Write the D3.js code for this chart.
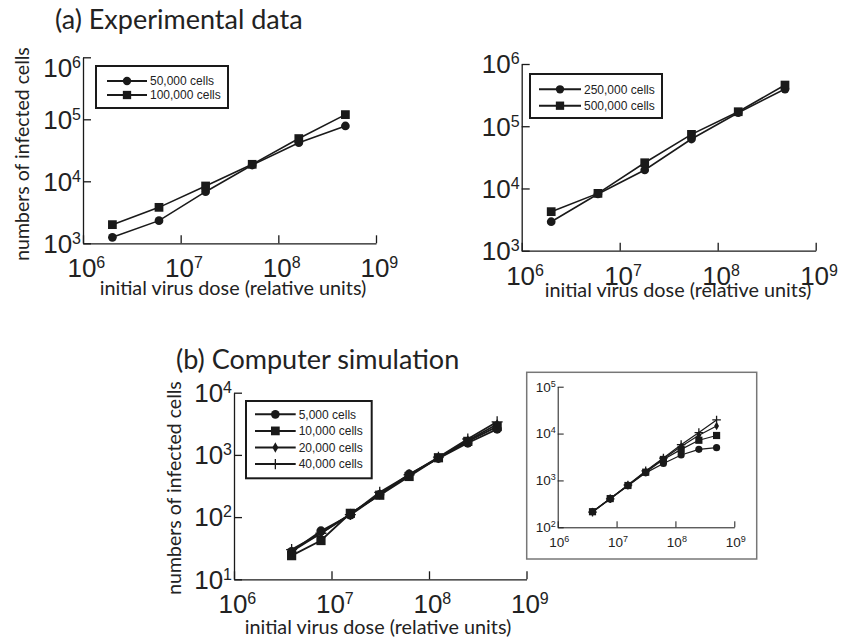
<!DOCTYPE html>
<html>
<head>
<meta charset="utf-8">
<script src="https://cdn.jsdelivr.net/npm/d3@7"></script>
<style>
  html, body { margin: 0; padding: 0; background: #fff; }
  svg { display: block; }
  .tick-label { font-family: "Liberation Sans", Arial, sans-serif; fill: #222; }
  .title { font-family: Lato, "Open Sans", sans-serif; fill: #222; }
  .legend-text { font-family: "Liberation Sans", Arial, sans-serif; font-size: 12px; fill: #222; }
</style>
</head>
<body>
<svg id="chart" width="841" height="639"></svg>
<script>
// ---- data -------------------------------------------------------------
// (a) experimental: virus dose steps of x3
const doseA = [2e6, 6e6, 1.8e7, 5.4e7, 1.62e8, 4.86e8];
const cells50k  = [1250, 2320, 6800, 18300, 42000, 78000];
const cells100k = [2000, 3800, 8400, 18800, 48900, 119000];
const cells250k = [2920, 8150, 19800, 62300, 165000, 396000];
const cells500k = [4240, 8340, 25900, 74000, 171000, 459000];

// (b) simulation: virus dose steps of x2
const doseB = [3.9e6, 7.8e6, 1.56e7, 3.125e7, 6.25e7, 1.25e8, 2.5e8, 5e8];
const sim5k  = [28, 60, 108, 230, 490, 880, 1550, 2600];
const sim10k = [24, 42, 115, 225, 450, 900, 1650, 2850];
const sim20k = [28, 55, 112, 235, 470, 900, 1700, 3100];
const sim40k = [30, 55, 110, 250, 480, 920, 1800, 3400];

// inset simulation
const inset5k  = [215, 400, 770, 1450, 2300, 3500, 4600, 5000];
const inset10k = [215, 410, 780, 1500, 2800, 4600, 7200, 9100];
const inset20k = [215, 410, 790, 1550, 2900, 5300, 9200, 14500];
const inset40k = [210, 405, 800, 1600, 3000, 5800, 10500, 19500];

// tick exponents
const xTickExp = [6, 7, 8, 9];
const yTickExpA = [3, 4, 5, 6];
const yTickExpB = [1, 2, 3, 4];
const yTickExpInset = [2, 3, 4, 5];

const legendA1 = ["50,000 cells", "100,000 cells"];
const legendA2 = ["250,000 cells", "500,000 cells"];
const legendB = ["5,000 cells", "10,000 cells", "20,000 cells", "40,000 cells"];

// ---- helpers ----------------------------------------------------------
const svg = d3.select("#chart");
const INK = "#1a1a1a";

function drawMarker(g, type, x, y, s) {
  // s = overall marker scale (1 = main panels)
  if (type === "circle") {
    g.append("circle").attr("cx", x).attr("cy", y).attr("r", 4.6 * s).attr("fill", INK);
  } else if (type === "square") {
    const h = 4.6 * s;
    g.append("rect").attr("x", x - h).attr("y", y - h).attr("width", 2 * h).attr("height", 2 * h).attr("fill", INK);
  } else if (type === "diamond") {
    g.append("path").attr("transform", `translate(${x},${y})`)
      .attr("d", d3.symbol().type(d3.symbolDiamond).size(34 * s * s)()).attr("fill", INK);
  } else if (type === "plus") {
    const h = 5.5 * s;
    g.append("path").attr("d", `M${x - h},${y}H${x + h}M${x},${y - h}V${y + h}`)
      .attr("stroke", INK).attr("stroke-width", 1.3).attr("fill", "none");
  }
}

function powerLabel(sel, exp, big, small, raise) {
  sel.text(null);
  sel.append("tspan").attr("font-size", big).text("10");
  sel.append("tspan").attr("font-size", small).attr("dy", -raise).text(exp);
}

function panel(opt) {
  const g = svg.append("g");
  const x = d3.scaleLog().domain([1e6, 1e9]).range([opt.x0, opt.x1]);
  const y = d3.scaleLog().domain([Math.pow(10, opt.yExp[0]), Math.pow(10, opt.yExp[opt.yExp.length - 1])])
    .range([opt.yBot, opt.yTop]);

  // axes: ticks point inward, labels drawn as powers of ten
  const xa = g.append("g").attr("transform", `translate(0,${opt.yBot})`)
    .call(d3.axisBottom(x).tickValues(xTickExp.map(e => Math.pow(10, e)))
      .tickSize(-opt.tick).tickSizeOuter(0).tickFormat(""));
  const ya = g.append("g").attr("transform", `translate(${opt.x0},0)`)
    .call(d3.axisLeft(y).tickValues(opt.yExp.map(e => Math.pow(10, e)))
      .tickSize(-opt.tick).tickSizeOuter(0).tickFormat(""));
  [xa, ya].forEach(a => {
    a.select(".domain").attr("stroke", INK).attr("stroke-width", opt.axisW);
    a.selectAll(".tick line").attr("stroke", INK).attr("stroke-width", opt.axisW);
  });

  xTickExp.forEach(e => {
    const t = g.append("text").attr("class", "tick-label")
      .attr("x", x(Math.pow(10, e)) - opt.big * 0.56 - 1).attr("y", opt.yBot + opt.xLabDy);
    powerLabel(t, e, opt.big, opt.small, opt.raise);
  });
  const topExp = opt.yExp[opt.yExp.length - 1];
  opt.yExp.forEach(e => {
    const shift = (e === topExp && opt.topShift) ? opt.topShift : 0;
    const t = g.append("text").attr("class", "tick-label")
      .attr("x", opt.x0 - 2).attr("y", y(Math.pow(10, e)) + opt.big * 0.36 + shift)
      .attr("text-anchor", "end");
    powerLabel(t, e, opt.big, opt.small, opt.raise);
  });

  // series
  opt.series.forEach(s => {
    const pts = opt.dose.map((d, i) => [x(d), y(s.values[i])]);
    g.append("path").attr("d", d3.line()(pts)).attr("fill", "none")
      .attr("stroke", INK).attr("stroke-width", opt.lineW);
    pts.forEach(p => drawMarker(g, s.marker, p[0], p[1], opt.markerScale));
  });

  // axis titles
  if (opt.xTitle) {
    g.append("text").attr("class", "title").attr("font-size", 19.8)
      .attr("x", opt.xTitle[0]).attr("y", opt.xTitle[1]).attr("text-anchor", "middle")
      .text("initial virus dose (relative units)");
  }
  if (opt.yTitle) {
    g.append("text").attr("class", "title").attr("font-size", 19.5)
      .attr("transform", `translate(${opt.yTitle[0]},${opt.yTitle[1]}) rotate(-90)`)
      .attr("text-anchor", "middle").text("numbers of infected cells");
  }

  // legend
  if (opt.legend) {
    const L = opt.legend;
    g.append("rect").attr("x", L.x).attr("y", L.y).attr("width", L.w).attr("height", L.h)
      .attr("fill", "#fff").attr("stroke", INK).attr("stroke-width", 2);
    opt.series.forEach((s, i) => {
      const ry = L.rowY0 + i * L.rowStep;
      g.append("line").attr("x1", L.lx1).attr("x2", L.lx2).attr("y1", ry).attr("y2", ry)
        .attr("stroke", INK).attr("stroke-width", 2);
      drawMarker(g, s.marker, (L.lx1 + L.lx2) / 2, ry, opt.markerScale * 0.95);
      g.append("text").attr("class", "legend-text").attr("x", L.lx2 + 3).attr("y", ry + 4.3)
        .text(L.labels[i]);
    });
  }
  return g;
}

// ---- (a) experimental data -------------------------------------------
svg.append("text").attr("class", "title").attr("font-size", 27)
  .attr("x", 55).attr("y", 29).text("(a) Experimental data");

panel({
  x0: 83, x1: 376, yTop: 57.3, yBot: 243.3, yExp: yTickExpA, dose: doseA,
  tick: 8, axisW: 1.3, lineW: 1.6, markerScale: 0.95,
  big: 26, small: 16, raise: 9, xLabDy: 34, topShift: 10,
  series: [{ values: cells50k, marker: "circle" }, { values: cells100k, marker: "square" }],
  xTitle: [233, 295], yTitle: [29, 154],
  legend: { x: 96, y: 66, w: 132, h: 42, lx1: 107, lx2: 147, rowY0: 81, rowStep: 14, labels: legendA1 }
});

panel({
  x0: 521.7, x1: 815.7, yTop: 64, yBot: 250.7, yExp: yTickExpA, dose: doseA,
  tick: 8, axisW: 1.3, lineW: 1.6, markerScale: 0.95,
  big: 26, small: 16, raise: 9, xLabDy: 34,
  series: [{ values: cells250k, marker: "circle" }, { values: cells500k, marker: "square" }],
  xTitle: [678, 297],
  legend: { x: 530, y: 74, w: 132, h: 44, lx1: 539, lx2: 581, rowY0: 89.3, rowStep: 16.4, labels: legendA2 }
});

// ---- (b) computer simulation -----------------------------------------
svg.append("text").attr("class", "title").attr("font-size", 27)
  .attr("x", 176).attr("y", 369).text("(b) Computer simulation");

panel({
  x0: 234, x1: 526.5, yTop: 392.7, yBot: 579.3, yExp: yTickExpB, dose: doseB,
  tick: 8, axisW: 1.3, lineW: 1.8, markerScale: 1,
  big: 26, small: 16, raise: 9, xLabDy: 34,
  series: [
    { values: sim5k, marker: "circle" }, { values: sim10k, marker: "square" },
    { values: sim20k, marker: "diamond" }, { values: sim40k, marker: "plus" }
  ],
  xTitle: [378, 634], yTitle: [181, 488],
  legend: { x: 246, y: 401, w: 125.7, h: 77.3, lx1: 255, lx2: 295.7, rowY0: 414.3, rowStep: 16.6, labels: legendB }
});

// inset frame
svg.append("rect").attr("x", 526.7).attr("y", 372.3).attr("width", 230).attr("height", 186.7)
  .attr("fill", "#fff").attr("stroke", "#777").attr("stroke-width", 1.5);

panel({
  x0: 557.7, x1: 734.3, yTop: 386.7, yBot: 527.3, yExp: yTickExpInset, dose: doseB,
  tick: 6, axisW: 1, lineW: 1.2, markerScale: 0.78,
  big: 13.5, small: 9, raise: 5, xLabDy: 20,
  series: [
    { values: inset5k, marker: "circle" }, { values: inset10k, marker: "square" },
    { values: inset20k, marker: "diamond" }, { values: inset40k, marker: "plus" }
  ]
});
</script>
</body>
</html>
